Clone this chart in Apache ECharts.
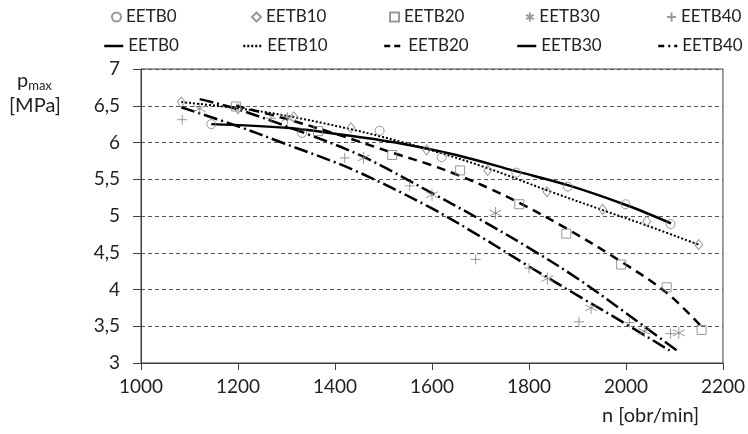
<!DOCTYPE html>
<html><head><meta charset="utf-8">
<script src="https://cdn.jsdelivr.net/npm/echarts@6/dist/echarts.min.js"></script>
<style>html,body{margin:0;padding:0;background:#fff}#c{width:748px;height:434px}</style>
</head><body><div id="c"></div>
<script>
// ---- data ----
const seriesNames = ['EETB0','EETB10','EETB20','EETB30','EETB40'];
const xTicks = [1000,1200,1400,1600,1800,2000,2200];
const yTicks = [3,3.5,4,4.5,5,5.5,6,6.5,7];

// measured points
const b0X  = [1145,1332,1492,1620,1774,1880,1999,2092];
const b0Y  = [6.25,6.13,6.16,5.80,5.59,5.40,5.16,4.89];
const b10X = [1083,1200,1315,1433,1589,1715,1837,1952,2043,2150];
const b10Y = [6.55,6.46,6.35,6.20,5.90,5.62,5.33,5.09,4.93,4.61];
const b20X = [1196,1365,1518,1658,1780,1877,1990,2084,2156];
const b20Y = [6.49,6.155,5.83,5.62,5.16,4.76,4.34,4.03,3.45];
const b30X = [1121,1302,1459,1600,1731,1838,1928,2038,2109];
const b30Y = [6.46,6.33,5.79,5.29,5.04,4.15,3.75,3.43,3.41];
const b40X = [1085,1268,1420,1554,1690,1800,1903,2007,2092];
const b40Y = [6.31,6.33,5.79,5.41,4.41,4.29,3.56,3.55,3.40];

// trend lines
const t0X  = [1145,1300,1400,1533,1650,1773,1880,2000,2093];
const t0Y  = [6.25,6.20,6.12,5.99,5.83,5.61,5.42,5.15,4.90];
const t10X = [1083,1250,1433,1590,1715,1837,1952,2043,2150];
const t10Y = [6.55,6.42,6.18,5.91,5.65,5.35,5.08,4.87,4.61];
const t20X = [1196,1300,1400,1519,1595,1660,1720,1780,1880,1990,2085,2155];
const t20Y = [6.50,6.32,6.12,5.86,5.70,5.54,5.37,5.18,4.82,4.38,3.95,3.50];
const t30X = [1121,1200,1341,1457,1595,1700,1804,1900,2000,2105];
const t30Y = [6.59,6.45,6.12,5.81,5.33,4.95,4.55,4.15,3.68,3.17];
const t40X = [1083,1200,1286,1437,1595,1700,1801,1900,2000,2090];
const t40Y = [6.48,6.22,6.01,5.63,5.12,4.72,4.31,3.92,3.53,3.17];

const zip = (a,b) => a.map((v,i)=>[v,b[i]]);
const pts = [[b0X,b0Y],[b10X,b10Y],[b20X,b20Y],[b30X,b30Y],[b40X,b40Y]];
const trs = [[t0X,t0Y],[t10X,t10Y],[t20X,t20Y],[t30X,t30Y],[t40X,t40Y]];

const FONT = 'Lato';
const TXT = '#222';
const MK = '#808080';
const symbols = ['circle','diamond','rect',
  'path://M5,0L5,10M0.7,2.5L9.3,7.5M0.7,7.5L9.3,2.5',
  'path://M5,0L5,10M0,5L10,5'];
const symSizes = [9,[8,10],9,12,10];
const lineStyles = [
  {type:'solid', width:2.5},
  {type:[2,2], width:2},
  {type:[9,6], width:2.5},
  {type:[14,4,2,4], width:2.5},
  {type:[14,4,2,4], width:2.5}
];
const legendLineTypes = ['solid',[2,2],[6,4],'solid',[6,4,2,4]];

const series = [];
pts.forEach((p,i)=>{
  series.push({
    name: seriesNames[i], type:'scatter', data: zip(p[0],p[1]),
    symbol: symbols[i], symbolSize: symSizes[i],
    itemStyle:{color:'rgba(0,0,0,0)', borderColor:MK, borderWidth:1},
    z:3
  });
});
trs.forEach((t,i)=>{
  series.push({
    name: seriesNames[i]+' ', type:'line', data: zip(t[0],t[1]),
    showSymbol:false, symbol:'none', smooth:0.35,
    lineStyle:Object.assign({color:'#000'}, lineStyles[i]),
    itemStyle:{color:'#000'}, z:2
  });
});

const row1Text = [125,265,403,539,680];
const row2Text = [126,265,406,539,680];
const legends = [];
seriesNames.forEach((n,i)=>{
  legends.push({
    data:[{name:n}], left: row1Text[i]-9-5, top:8, padding:0,
    itemWidth:9, itemHeight:9, itemGap:0,
    textStyle:{fontFamily:FONT, fontSize:17, color:TXT, lineHeight:18},
    selectedMode:false
  });
  legends.push({
    data:[{name:n+' ', itemStyle:{opacity:0, color:'rgba(0,0,0,0)', borderWidth:0},
           lineStyle:{type:legendLineTypes[i], width:2.5, color:'#000'}}],
    left: row2Text[i]-23, top:37, padding:0,
    itemWidth:19, itemHeight:10, itemGap:0,
    formatter: s=>s.trim(),
    textStyle:{fontFamily:FONT, fontSize:17, color:TXT, lineHeight:18},
    selectedMode:false
  });
});

const chart = echarts.init(document.getElementById('c'), null, {renderer:'canvas'});
chart.setOption({
  animation:false,
  backgroundColor:'#fff',
  grid:{left:141, right:25, top:69, bottom:71, show:true, borderColor:'#404040', borderWidth:1, backgroundColor:'transparent'},
  legend: legends,
  xAxis:{type:'value', min:xTicks[0], max:xTicks[xTicks.length-1], interval:200,
    axisLine:{show:true, lineStyle:{color:'#404040', width:1}},
    axisTick:{show:true, length:7, lineStyle:{color:'#404040'}},
    axisLabel:{fontFamily:FONT, fontSize:19, color:TXT, margin:14, formatter: v => String(v)},
    splitLine:{show:false}},
  yAxis:{type:'value', min:yTicks[0], max:yTicks[yTicks.length-1], interval:0.5,
    axisLine:{show:true, lineStyle:{color:'#404040', width:1}},
    axisTick:{show:true, length:8, lineStyle:{color:'#404040'}},
    axisLabel:{fontFamily:FONT, fontSize:19, color:TXT, margin:21,
      formatter: v => String(v).replace('.',',')},
    splitLine:{show:true, lineStyle:{type:[4,3], color:'#555', width:1}}},
  graphic:[
    {type:'text', left:17, top:71, style:{
      text:'{p|p}{s|max}', fontFamily:FONT, fill:TXT,
      rich:{p:{fontSize:20, fontFamily:FONT, fill:TXT}, s:{fontSize:13, fontFamily:FONT, fill:TXT, padding:[10,0,0,0]}}}},
    {type:'text', left:9, top:96, style:{text:'[MPa]', fontFamily:FONT, fontSize:20, fill:TXT}},
    {type:'text', left:602, top:406, style:{text:'n [obr/min]', fontFamily:FONT, fontSize:20, fill:TXT}}
  ],
  series: series
});
</script></body></html>
